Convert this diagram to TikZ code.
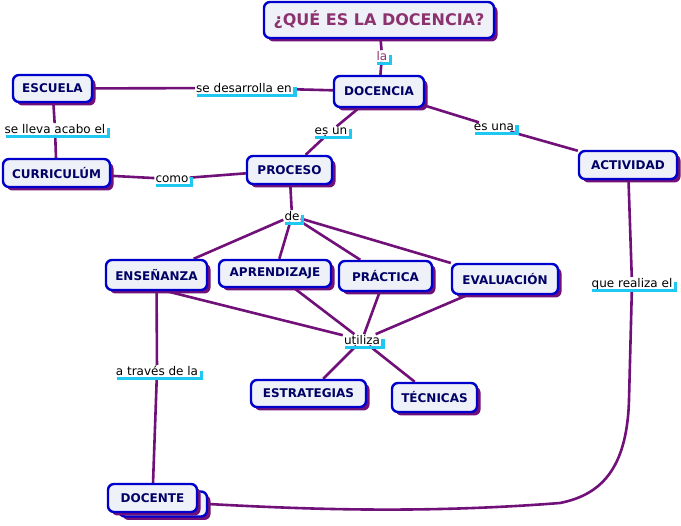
\documentclass[tikz,border=0pt]{standalone}
\usepackage{fontspec}
\setmainfont{DejaVu Sans}
\usetikzlibrary{shadows,backgrounds}
\definecolor{cmapborder}{RGB}{0,0,204}
\definecolor{cmapfill}{RGB}{238,242,248}
\definecolor{cmapshadow}{RGB}{112,16,120}
\definecolor{cmapline}{RGB}{112,16,120}
\definecolor{cmaptext}{RGB}{0,0,102}
\definecolor{cmaptitle}{RGB}{140,50,110}
\definecolor{cmapmark}{RGB}{30,200,240}
\tikzset{
  concept/.style={draw=cmapborder,line width=2.4pt,rounded corners=6pt,fill=cmapfill,
    text=cmaptext,font=\fontsize{12}{14}\selectfont\bfseries,inner sep=0pt,
    drop shadow={shadow xshift=3.5pt,shadow yshift=-3.5pt,fill=cmapshadow,opacity=1}},
  linkphrase/.style={font=\fontsize{12}{14}\selectfont,inner sep=1pt,text=black},
  link/.style={draw=cmapline,line width=2.6pt},
  markline/.style={draw=cmapmark,line width=3.5pt,line join=miter}
}
\newcommand{\linkmark}[1]{\draw[markline] ([xshift=2pt,yshift=-3pt]#1.base west) -- ([xshift=2pt,yshift=-3pt]#1.base east) -- ([xshift=2pt,yshift=5pt]#1.base east);}

\begin{document}
\begin{tikzpicture}[x=1pt,y=-1pt]
 \useasboundingbox (0,0) rectangle (681,526);
 % concepts
 \node[concept,minimum width=230pt,minimum height=36pt,text=cmaptitle,font=\fontsize{16}{18}\selectfont\bfseries] (titulo) at (379,20) {¿QUÉ ES LA DOCENCIA?};
 \node[concept,minimum width=90pt,minimum height=31pt] (docencia) at (379,91.5) {DOCENCIA};
 \node[concept,minimum width=79pt,minimum height=27pt] (escuela) at (52.5,88.5) {ESCUELA};
 \node[concept,minimum width=107pt,minimum height=28pt] (curriculum) at (56.5,173) {CURRICULÚM};
 \node[concept,minimum width=85pt,minimum height=28pt] (proceso) at (289.5,170) {PROCESO};
 \node[concept,minimum width=98pt,minimum height=28pt] (actividad) at (628,165) {ACTIVIDAD};
 \node[concept,minimum width=101pt,minimum height=30pt] (ensenanza) at (156.5,275) {ENSEÑANZA};
 \node[concept,minimum width=112pt,minimum height=27pt] (aprendizaje) at (275,273.5) {APRENDIZAJE};
 \node[concept,minimum width=93pt,minimum height=30pt] (practica) at (385.5,276) {PRÁCTICA};
 \node[concept,minimum width=106pt,minimum height=30pt] (evaluacion) at (505,279) {EVALUACIÓN};
 \node[concept,minimum width=115pt,minimum height=27pt] (estrategias) at (308.5,393.5) {ESTRATEGIAS};
 \node[concept,minimum width=85pt,minimum height=29pt] (tecnicas) at (434.5,397.5) {TÉCNICAS};
 \node[concept,minimum width=88pt,minimum height=25pt] (docenteb) at (163,504) {};
 \node[concept,minimum width=89pt,minimum height=28pt] (docente) at (152.5,498) {DOCENTE};
 % linking phrases
 \node[linkphrase,text=cmaptitle] (la) at (382,56) {la};
 \node[linkphrase] (desarrolla) at (244,88) {se desarrolla en};
 \node[linkphrase] (lleva) at (55,129) {se lleva acabo el};
 \node[linkphrase] (como) at (172,179) {como};
 \node[linkphrase] (esun) at (331,131) {es un};
 \node[linkphrase] (esuna) at (494,127) {es una};
 \node[linkphrase] (de) at (292,216) {de};
 \node[linkphrase] (realiza) at (632,284) {que realiza el};
 \node[linkphrase] (utiliza) at (362,340) {utiliza};
 \node[linkphrase] (atraves) at (157,371) {a través de la};
 \foreach \m in {la,desarrolla,lleva,como,esun,esuna,de,realiza,utiliza,atraves}
   {\linkmark{\m}}
 \coordinate (bajada) at (629,400);
 \coordinate (giro) at (560,503);
 \begin{scope}[on background layer]
  \fill[white] (0,0) rectangle (681,526);
  \path[link]
    (titulo) edge (la) (la) edge (docencia)
    (escuela) edge (desarrolla) (desarrolla) edge (docencia)
    (escuela) edge (lleva) (lleva) edge (curriculum)
    (curriculum) edge (como) (como) edge (proceso)
    (docencia) edge (esun) (esun) edge (proceso)
    (docencia) edge (esuna) (esuna) edge (actividad)
    (proceso) edge (de)
    (de) edge (ensenanza) (de) edge (aprendizaje)
    (de) edge (practica) (de) edge (evaluacion)
    ([xshift=10pt]ensenanza.south) edge (utiliza)
    (aprendizaje) edge (utiliza) (practica) edge (utiliza)
    (evaluacion) edge (utiliza)
    (utiliza) edge (estrategias) (utiliza) edge (tecnicas)
    (ensenanza) edge (atraves) (atraves) edge (docente)
    (actividad) edge (realiza);
  \draw[link] (realiza) -- (bajada) .. controls (627,470) and (600,495) .. (giro)
    .. controls (420,514) and (300,509) .. (docenteb.east);
 \end{scope}
\end{tikzpicture}
\end{document}
